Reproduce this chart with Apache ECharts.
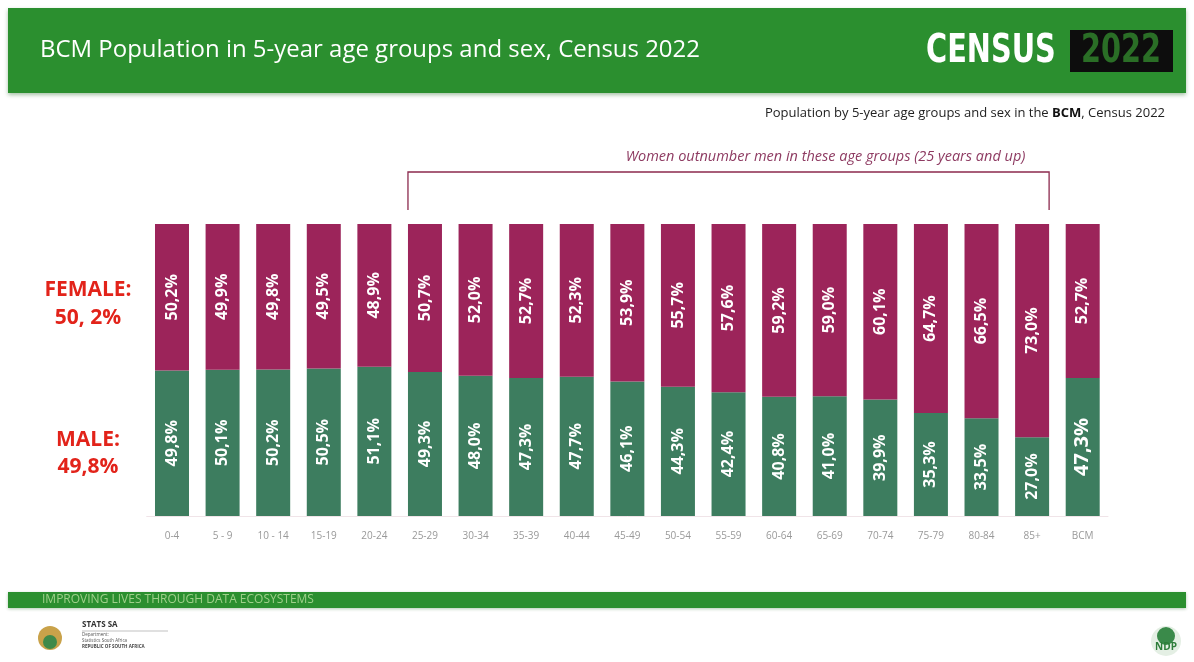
<!DOCTYPE html>
<html>
<head>
<meta charset="utf-8">
<script src="https://cdn.jsdelivr.net/npm/echarts@6/dist/echarts.min.js"></script>
<style>
  html, body { margin: 0; padding: 0; background: #ffffff; }
  #chart { width: 1194px; height: 662px; }
</style>
</head>
<body>
<div id="chart"></div>
<script>
// Age groups (plus the BCM total) on the category axis
const ageGroups = ['0-4', '5 - 9', '10 - 14', '15-19', '20-24', '25-29', '30-34', '35-39', '40-44',
  '45-49', '50-54', '55-59', '60-64', '65-69', '70-74', '75-79', '80-84', '85+', 'BCM'];

// Share of each group, in percent
const malePct = [49.8, 50.1, 50.2, 50.5, 51.1, 49.3, 48.0, 47.3, 47.7,
  46.1, 44.3, 42.4, 40.8, 41.0, 39.9, 35.3, 33.5, 27.0, 47.3];
const femalePct = [50.2, 49.9, 49.8, 49.5, 48.9, 50.7, 52.0, 52.7, 52.3,
  53.9, 55.7, 57.6, 59.2, 59.0, 60.1, 64.7, 66.5, 73.0, 52.7];

// Range of groups spanned by the bracket annotation
const bracketFrom = '25-29';
const bracketTo = '85+';

const HEADER_GREEN = '#2b8f2f';
const MALE_GREEN = '#3d7d5f';
const FEMALE_MAROON = '#9c245a';
const FONT = '"Open Sans", "Liberation Sans", sans-serif';
const BLOCK_FONT = '"DejaVu Sans Condensed", "DejaVu Sans", sans-serif';

const fmt = v => v.toFixed(1).replace('.', ',') + '%';

const chart = echarts.init(document.getElementById('chart'), null, { renderer: 'canvas' });

const barLabel = () => ({
  show: true,
  position: 'inside',
  rotate: 90,
  color: '#ffffff',
  fontFamily: FONT,
  fontWeight: 'bold',
  fontSize: 16,
  formatter: p => fmt(p.value)
});

// the BCM total gets a larger male label
const maleData = malePct.map((v, i) => ageGroups[i] === 'BCM'
  ? { value: v, label: { fontSize: 20 } } : v);
const femaleData = femalePct.slice();

chart.setOption({
  animation: false,
  backgroundColor: '#ffffff',
  grid: { left: 146.7, right: 86, top: 224, bottom: 146 },
  xAxis: {
    type: 'category',
    data: ageGroups,
    axisTick: { show: false },
    axisLine: { show: true, lineStyle: { color: '#f0e4e8', width: 1 } },
    axisLabel: { color: '#999999', fontFamily: FONT, fontSize: 10, margin: 15 }
  },
  yAxis: {
    type: 'value', min: 0, max: 100, show: false,
    splitLine: { show: false }
  },
  series: [
    {
      name: 'Male', type: 'bar', stack: 'pop', barWidth: 34,
      itemStyle: { color: MALE_GREEN },
      label: barLabel(),
      data: maleData
    },
    {
      name: 'Female', type: 'bar', stack: 'pop', barWidth: 34,
      itemStyle: { color: FEMALE_MAROON },
      label: barLabel(),
      data: femaleData
    }
  ]
});

// Decorations: header, side labels, subtitle, bracket and footer
function drawDecor() {
  const i0 = ageGroups.indexOf(bracketFrom);
  const i1 = ageGroups.indexOf(bracketTo);
  const half = 17;
  const xL = chart.convertToPixel({ xAxisIndex: 0 }, ageGroups[i0]) - half;
  const xR = chart.convertToPixel({ xAxisIndex: 0 }, ageGroups[i1]) + half;
  const yBar = chart.convertToPixel({ yAxisIndex: 0 }, 100);
  const yLine = yBar - 52;
  const yEnd = yBar - 14;

  chart.setOption({
    graphic: [
      // header band
      { type: 'rect', shape: { x: 8, y: 8, width: 1178, height: 85 },
        style: { fill: HEADER_GREEN, shadowBlur: 4, shadowColor: 'rgba(0,80,0,0.35)', shadowOffsetY: 2 }, z: 0 },
      { type: 'text', x: 40, y: 50, scaleX: 1.02,
        style: { text: 'BCM Population in 5-year age groups and sex, Census 2022', fill: '#ffffff',
          font: '23.5px ' + FONT, textVerticalAlign: 'middle' } },
      { type: 'text', x: 926, y: 52, scaleY: 1.2,
        style: { text: 'CENSUS', fill: '#ffffff', font: 'bold 32px ' + BLOCK_FONT,
          textVerticalAlign: 'middle' } },
      { type: 'rect', shape: { x: 1070, y: 30, width: 103, height: 42 }, style: { fill: '#0d0d0d' } },
      { type: 'text', x: 1121, y: 52, scaleY: 1.2,
        style: { text: '2022', fill: '#2a6e26', font: 'bold 32px ' + BLOCK_FONT,
          textAlign: 'center', textVerticalAlign: 'middle' } },

      // subtitle (right aligned, with bold BCM)
      { type: 'text', x: 1165, y: 113,
        style: { text: '{n|Population by 5-year age groups and sex in the }{b|BCM}{n|, Census 2022}',
          textAlign: 'right', textVerticalAlign: 'middle',
          rich: { n: { fontFamily: FONT, fontSize: 13, fill: '#222222' },
                  b: { fontFamily: FONT, fontSize: 13, fontWeight: 'bold', fill: '#111111' } } } },

      // side labels
      { type: 'text', x: 88, y: 304,
        style: { text: 'FEMALE:\n50, 2%', fill: '#e2231a', font: 'bold 21px ' + FONT, lineHeight: 28,
          textAlign: 'center', textVerticalAlign: 'middle' } },
      { type: 'text', x: 88, y: 454,
        style: { text: 'MALE:\n49,8%', fill: '#e2231a', font: 'bold 21px ' + FONT, lineHeight: 27,
          textAlign: 'center', textVerticalAlign: 'middle' } },

      // bracket over the 25+ groups
      { type: 'polyline', shape: { points: [[xL, yEnd], [xL, yLine], [xR, yLine], [xR, yEnd]] },
        style: { stroke: '#8c2a4e', lineWidth: 1.3, fill: null } },
      { type: 'text', x: (xL + xR) / 2 + 97, y: yLine - 15,
        style: { text: 'Women outnumber men in these age groups (25 years and up)', fill: '#8e3b62',
          font: 'italic 14.5px ' + FONT, textAlign: 'center', textVerticalAlign: 'middle' } },

      // footer band
      { type: 'rect', shape: { x: 8, y: 592, width: 1178, height: 16 },
        style: { fill: HEADER_GREEN, shadowBlur: 3, shadowColor: 'rgba(0,80,0,0.3)', shadowOffsetY: 1 } },
      { type: 'text', x: 42, y: 600,
        style: { text: 'IMPROVING LIVES THROUGH DATA ECOSYSTEMS', fill: '#9fd08a',
          font: '12px ' + FONT, textVerticalAlign: 'middle' } },

      // Stats SA emblem and wordmark
      { type: 'circle', shape: { cx: 50, cy: 638, r: 12 }, style: { fill: '#c9a24a' } },
      { type: 'circle', shape: { cx: 50, cy: 642, r: 7 }, style: { fill: '#3f8a4a' } },
      { type: 'text', x: 82, y: 625,
        style: { text: 'STATS SA', fill: '#333333', font: 'bold 8px ' + FONT, textVerticalAlign: 'middle' } },
      { type: 'line', shape: { x1: 82, y1: 631, x2: 168, y2: 631 }, style: { stroke: '#999999', lineWidth: 0.6 } },
      { type: 'text', x: 82, y: 635,
        style: { text: 'Department:', fill: '#555555', font: '4.5px ' + FONT, textVerticalAlign: 'middle' } },
      { type: 'text', x: 82, y: 641,
        style: { text: 'Statistics South Africa', fill: '#555555', font: '4.5px ' + FONT, textVerticalAlign: 'middle' } },
      { type: 'text', x: 82, y: 647,
        style: { text: 'REPUBLIC OF SOUTH AFRICA', fill: '#444444', font: 'bold 4.5px ' + FONT, textVerticalAlign: 'middle' } },

      // NDP badge
      { type: 'circle', shape: { cx: 1166, cy: 641, r: 15 }, style: { fill: '#e4efe4' } },
      { type: 'circle', shape: { cx: 1166, cy: 636, r: 9 }, style: { fill: '#3a8a4a' } },
      { type: 'text', x: 1166, y: 647,
        style: { text: 'NDP', fill: '#2e7d3a', font: 'bold 10px ' + FONT, textAlign: 'center', textVerticalAlign: 'middle' } }
    ]
  });
}
drawDecor();
</script>
</body>
</html>
